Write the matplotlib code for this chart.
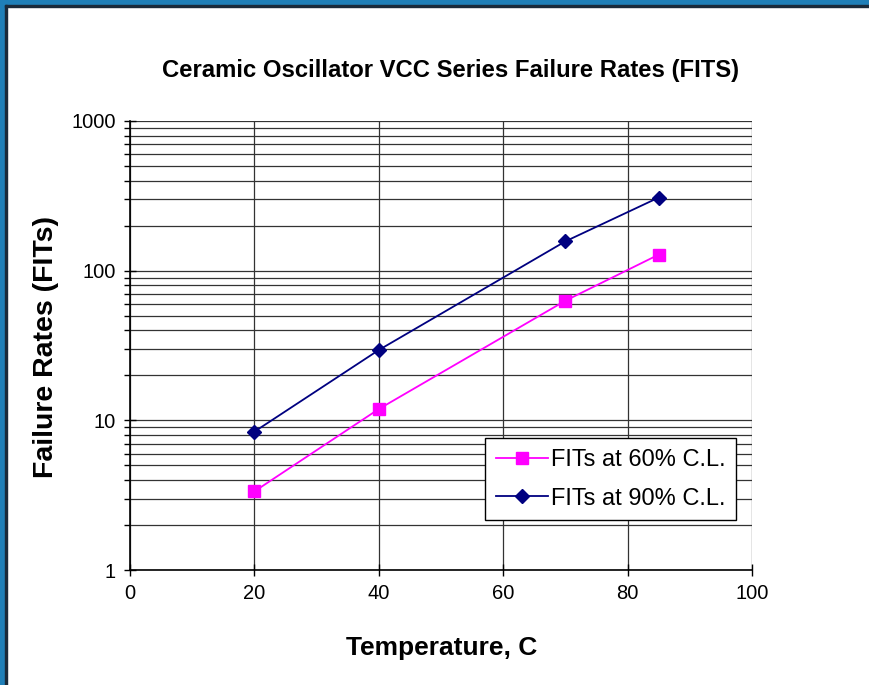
import numpy as np
import matplotlib.pyplot as plt
from matplotlib.patches import Rectangle
from matplotlib.ticker import LogLocator, NullFormatter, FixedLocator

plt.rcParams['font.family'] = ['Liberation Sans', 'DejaVu Sans']

# data
temps = [20, 40, 70, 85]
fits_60 = [3.35, 11.9, 63, 128]
fits_90 = [8.4, 29.5, 157, 308]
x_ticks = [0, 20, 40, 60, 80, 100]
y_ticks = [1, 10, 100, 1000]
y_tick_labels = ['1', '10', '100', '1000']

W, H = 869, 685
fig = plt.figure(figsize=(W / 100, H / 100), dpi=100)
fig.patch.set_facecolor('white')

# blue frame on top and left edges
fig.patches.append(Rectangle((0, 1 - 5 / H), 1, 5 / H, transform=fig.transFigure,
                             color='#1f7fb8', zorder=0))
fig.patches.append(Rectangle((0, 0), 5 / W, 1, transform=fig.transFigure,
                             color='#1f7fb8', zorder=0))
fig.patches.append(Rectangle((5 / W, 0), 2 / W, 1 - 5 / H, transform=fig.transFigure,
                             color='#1a2a3a', zorder=0))
fig.patches.append(Rectangle((5 / W, 1 - 7 / H), 1, 2 / H, transform=fig.transFigure,
                             color='#1a2a3a', zorder=0))

ax = fig.add_axes([130 / W, 1 - 570 / H, (752 - 130) / W, (570 - 121) / H])
ax.set_yscale('log')
ax.set_xlim(0, 100)
ax.set_ylim(1, 1000)

ax.plot(temps, fits_60, color='#ff00ff', marker='s', markersize=8, lw=1.3,
        label='FITs at 60% C.L.', zorder=3)
ax.plot(temps, fits_90, color='#000080', marker='D', markersize=7, lw=1.3,
        label='FITs at 90% C.L.', zorder=3)

ax.xaxis.set_major_locator(FixedLocator(x_ticks))
ax.yaxis.set_major_locator(FixedLocator(y_ticks))
ax.set_yticklabels(y_tick_labels)
ax.yaxis.set_minor_locator(LogLocator(base=10, subs=np.arange(2, 10)))
ax.yaxis.set_minor_formatter(NullFormatter())

ax.grid(True, which='major', color='#333333', lw=0.9)
ax.grid(True, which='minor', axis='y', color='#333333', lw=0.9)

for s in ['top', 'right']:
    ax.spines[s].set_visible(False)
for s in ['left', 'bottom']:
    ax.spines[s].set_color('black')
    ax.spines[s].set_linewidth(1.2)

ax.tick_params(axis='both', which='major', direction='inout', length=8, width=1,
               labelsize=14.5, colors='black', pad=6)
ax.tick_params(axis='y', which='minor', direction='out', length=4, width=1)

fig.text(451 / W, 1 - 70 / H, 'Ceramic Oscillator VCC Series Failure Rates (FITS)',
         fontsize=17.2, fontweight='bold', ha='center', va='center')
fig.text(442 / W, 1 - 648 / H, 'Temperature, C', fontsize=19, fontweight='bold',
         ha='center', va='center')
fig.text(46 / W, 1 - 347 / H, 'Failure Rates (FITs)', fontsize=20.5, fontweight='bold',
         ha='center', va='center', rotation=90)

leg = ax.legend(loc='lower right', bbox_to_anchor=(0.974, 0.111), borderaxespad=0,
                fontsize=17, frameon=True, fancybox=False, framealpha=1,
                edgecolor='black', borderpad=0.45, handlelength=2.2,
                handletextpad=0.12, labelspacing=0.7)
leg.get_frame().set_linewidth(1)

fig.savefig('out.png', dpi=100)
